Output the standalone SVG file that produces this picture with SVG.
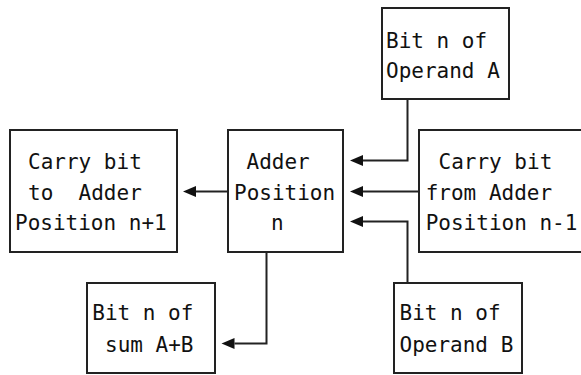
<svg xmlns="http://www.w3.org/2000/svg" width="581" height="375" viewBox="0 0 581 375">
<style>
.box{fill:#fff;stroke:#222;stroke-width:2}
.t{font-family:"DejaVu Sans Mono","Liberation Mono",monospace;font-size:22px;fill:#111}
.c{fill:none;stroke:#222;stroke-width:2}
</style>
<defs>
<marker id="ah" markerUnits="userSpaceOnUse" markerWidth="14" markerHeight="12" refX="0" refY="5.5" orient="auto" viewBox="0 0 14 11">
<path d="M0,0 L13,5.5 L0,11 z" fill="#111"/>
</marker>
</defs>
<rect width="581" height="375" fill="#fff"/>
<g id="opA">
<rect class="box" x="382" y="8" width="127" height="91"/>
<text class="t" x="386" y="47.5" textLength="101.1" lengthAdjust="spacingAndGlyphs">Bit n of</text>
<text class="t" x="386" y="77.5" textLength="113.8" lengthAdjust="spacingAndGlyphs">Operand A</text>
</g>
<g id="carryTo">
<rect class="box" x="10" y="130" width="167" height="122"/>
<text class="t" x="28" y="168.5" textLength="113.8" lengthAdjust="spacingAndGlyphs">Carry bit</text>
<text class="t" x="28" y="199.5" xml:space="preserve" textLength="113.8" lengthAdjust="spacingAndGlyphs">to  Adder</text>
<text class="t" x="15" y="230" textLength="151.7" lengthAdjust="spacingAndGlyphs">Position n+1</text>
</g>
<g id="adder">
<rect class="box" x="228" y="130" width="115" height="122"/>
<text class="t" x="246.5" y="168.5" textLength="63.2" lengthAdjust="spacingAndGlyphs">Adder</text>
<text class="t" x="234" y="199.5" textLength="101.1" lengthAdjust="spacingAndGlyphs">Position</text>
<text class="t" x="271" y="230" textLength="12.64" lengthAdjust="spacingAndGlyphs">n</text>
</g>
<g id="carryFrom">
<rect class="box" x="419" y="130" width="175" height="122"/>
<text class="t" x="438.5" y="168.5" textLength="113.8" lengthAdjust="spacingAndGlyphs">Carry bit</text>
<text class="t" x="425.7" y="199.5" textLength="126.4" lengthAdjust="spacingAndGlyphs">from Adder</text>
<text class="t" x="425.7" y="230" textLength="151.7" lengthAdjust="spacingAndGlyphs">Position n-1</text>
</g>
<g id="sum">
<rect class="box" x="87" y="283" width="128" height="90"/>
<text class="t" x="92.3" y="320" textLength="101.1" lengthAdjust="spacingAndGlyphs">Bit n of</text>
<text class="t" x="105" y="352" textLength="88.5" lengthAdjust="spacingAndGlyphs">sum A+B</text>
</g>
<g id="opB">
<rect class="box" x="394" y="283" width="128" height="90"/>
<text class="t" x="399.5" y="320" textLength="101.1" lengthAdjust="spacingAndGlyphs">Bit n of</text>
<text class="t" x="399.5" y="352" textLength="113.8" lengthAdjust="spacingAndGlyphs">Operand B</text>
</g>
<g id="connectors">
<path class="c" d="M407.5 99 V160.5 H363" marker-end="url(#ah)"/>
<path class="c" d="M419 191.5 H363" marker-end="url(#ah)"/>
<path class="c" d="M407.5 283 V221.5 H363" marker-end="url(#ah)"/>
<path class="c" d="M228 191.5 H196" marker-end="url(#ah)"/>
<path class="c" d="M266.5 252 V343.5 H234.5" marker-end="url(#ah)"/>
</g>
</svg>
